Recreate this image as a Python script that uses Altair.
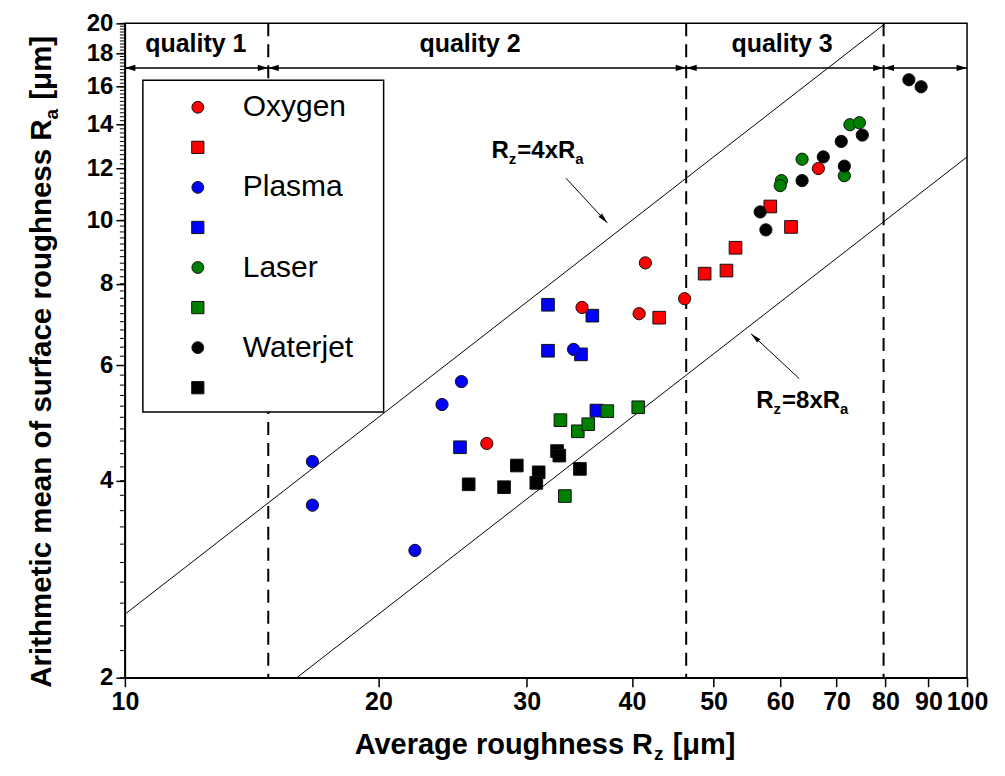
import altair as alt
import pandas as pd

# ---------------- data (Rz, Ra in µm) ----------------
oxygen_circle_rz = [26.9, 34.9, 40.8, 41.5, 46.2, 66.6]
oxygen_circle_ra = [4.56, 7.36, 7.20, 8.61, 7.59, 12.0]
oxygen_square_rz = [43.1, 48.8, 51.8, 53.1, 58.4, 61.8]
oxygen_square_ra = [7.10, 8.29, 8.38, 9.08, 10.5, 9.77]
plasma_circle_rz = [16.7, 16.7, 22.1, 23.8, 25.1, 34.1]
plasma_circle_ra = [4.28, 3.67, 3.13, 5.23, 5.67, 6.35]
plasma_square_rz = [25.0, 31.8, 35.9, 31.8, 34.8, 36.3]
plasma_square_ra = [4.50, 7.43, 7.15, 6.32, 6.24, 5.12]
laser_circle_rz = [60.2, 60.0, 63.7, 71.5, 72.6, 74.5]
laser_circle_ra = [11.5, 11.3, 12.4, 11.7, 14.0, 14.1]
laser_square_rz = [32.9, 34.5, 35.5, 37.4, 40.7, 33.3]
laser_square_ra = [4.95, 4.76, 4.88, 5.11, 5.18, 3.79]
waterjet_circle_rz = [56.8, 57.7, 63.7, 67.5, 70.9, 71.5, 75.1, 85.3, 88.2]
waterjet_circle_ra = [10.3, 9.67, 11.5, 12.5, 13.2, 12.1, 13.5, 16.4, 16.0]
waterjet_square_rz = [25.6, 28.2, 29.2, 31.0, 30.8, 32.6, 32.8, 34.7]
waterjet_square_ra = [3.95, 3.91, 4.22, 4.12, 3.97, 4.44, 4.37, 4.17]

processes = ["Oxygen", "Plasma", "Laser", "Waterjet"]
process_colors = ["#ff0000", "#0000ff", "#008000", "#000000"]
legend_labels = ["Oxygen", "", "Plasma", "", "Laser", "", "Waterjet", ""]

x_ticks = [10, 20, 30, 40, 50, 60, 70, 80, 90, 100]
y_ticks = [2, 4, 6, 8, 10, 12, 14, 16, 18, 20]
y_minor = [round(2 + 0.2 * i, 1) for i in range(91)]

# reference lines Rz = 4 Ra and Rz = 8 Ra (end points)
line4_rz = [10, 80]
line4_ra = [2.5, 20]
line8_rz = [16, 100]
line8_ra = [2, 12.5]

# quality classes
divider_rz = [14.8, 46.4, 79.6]
quality_line_ra = 17.1
segment_left = [10, 14.8, 46.4, 79.6]
segment_right = [14.8, 46.4, 79.6, 100]
quality_labels = ["quality 1", "quality 2", "quality 3"]
quality_label_rz = [12.14, 25.7, 60.3]
quality_label_ra = 18.6

# annotations
ann4_tail = (33.4, 11.6)
ann4_head = (37.4, 9.91)
ann4_text = (27.25, 12.45)
ann8_tail = (63.2, 5.73)
ann8_head = (55.4, 6.71)
ann8_text = (56.2, 5.16)

# ---------------- layout / style ----------------
W, H = 843, 655
FONT = "Liberation Sans"

BOLD_W = {" ": .278, "A": .722, "R": .722, "a": .556, "c": .556, "e": .556, "f": .333,
          "g": .611, "h": .611, "i": .278, "m": .889, "n": .611, "o": .611, "r": .389,
          "s": .556, "t": .333, "u": .611, "v": .556, "x": .556, "z": .5, "[": .333,
          "]": .333, "μ": .611, "=": .584, "4": .556, "8": .556}


def tw(s, size):
    return sum(BOLD_W.get(c, .556) for c in s) * size


xs = alt.Scale(type="log", domain=[10, 100], nice=False)
ys = alt.Scale(type="log", domain=[2, 20], nice=False)

x_axis = alt.Axis(values=x_ticks, format="d", title=None, grid=False,
                  labelFont=FONT, labelFontSize=25, labelFontWeight="bold",
                  labelColor="black", tickColor="black", tickSize=9, tickWidth=1.5,
                  domainColor="black", domainWidth=1.5, labelPadding=3,
                  labelFlush=False, labelOverlap=False)
y_axis = alt.Axis(values=y_ticks, format="d", title=None, grid=False,
                  labelFont=FONT, labelFontSize=24, labelFontWeight="bold",
                  labelColor="black", tickColor="black", tickSize=9, tickWidth=1.5,
                  domainColor="black", domainWidth=1.5, labelPadding=3,
                  labelFlush=False, labelOverlap=False)

XE = alt.X("Rz:Q", scale=xs, axis=x_axis)
YE = alt.Y("Ra:Q", scale=ys, axis=y_axis)
one = pd.DataFrame({"k": [0]})

layers = []

# reference lines
ref = pd.DataFrame({"Rz": line4_rz + line8_rz, "Ra": line4_ra + line8_ra,
                    "line": ["4", "4", "8", "8"]})
layers.append(alt.Chart(ref).mark_line(color="black", strokeWidth=1, clip=True)
              .encode(x=XE, y=YE, detail="line:N"))

# dividers
layers.append(alt.Chart(pd.DataFrame({"Rz": divider_rz}))
              .mark_rule(color="black", strokeWidth=2, strokeDash=[13, 8])
              .encode(x=XE, y=alt.value(0), y2=alt.value(H)))

# quality arrow line
layers.append(alt.Chart(pd.DataFrame({"Ra": [quality_line_ra]}))
              .mark_rule(color="black", strokeWidth=1.5)
              .encode(y=YE, x=alt.value(0), x2=alt.value(W)))
left_head = "M0,0L2,-0.6L2,0.6Z"
right_head = "M0,0L-2,-0.6L-2,0.6Z"
layers.append(alt.Chart(pd.DataFrame({"Rz": segment_left, "Ra": [quality_line_ra] * 4}))
              .mark_point(shape=left_head, filled=True, color="black", size=110, opacity=1)
              .encode(x=XE, y=YE))
layers.append(alt.Chart(pd.DataFrame({"Rz": segment_right, "Ra": [quality_line_ra] * 4}))
              .mark_point(shape=right_head, filled=True, color="black", size=110, opacity=1)
              .encode(x=XE, y=YE))
layers.append(alt.Chart(pd.DataFrame({"Rz": quality_label_rz, "Ra": [quality_label_ra] * 3,
                                      "t": quality_labels}))
              .mark_text(font=FONT, fontSize=25, fontWeight="bold", color="black",
                         baseline="middle", align="center")
              .encode(x=XE, y=YE, text="t:N"))

# minor ticks on y axis
layers.append(alt.Chart(pd.DataFrame({"Ra": y_minor}))
              .mark_rule(color="black", strokeWidth=1)
              .encode(y=YE, x=alt.value(-5), x2=alt.value(0)))

# legend
LX0, LX1, LY0, LY1 = 18, 259, 57, 389
layers.append(alt.Chart(one).mark_rect(fill="white", stroke="black", strokeWidth=1.5)
              .encode(x=alt.value(LX0), x2=alt.value(LX1), y=alt.value(LY0), y2=alt.value(LY1)))
for i, lab in enumerate(legend_labels):
    yy = 84 + 40.1 * i
    col = process_colors[i // 2]
    shp = "circle" if i % 2 == 0 else "square"
    layers.append(alt.Chart(one).mark_point(shape=shp, filled=True, fill=col, stroke="#111",
                                            strokeWidth=1, size=140 if shp == "circle" else 150,
                                            opacity=1)
                  .encode(x=alt.value(73), y=alt.value(yy)))
    if lab:
        layers.append(alt.Chart(one).mark_text(text=lab, font=FONT, fontSize=30, color="black",
                                               align="left", baseline="middle")
                      .encode(x=alt.value(118), y=alt.value(yy)))


# rich text helper (subscripts)
def rich(parts, enc, size, sub, angle=0, sub_dy=6, data=one):
    out = []
    off = 0.0
    for txt, is_sub in parts:
        fs = sub if is_sub else size
        core = txt.strip()
        off += tw(txt[:len(txt) - len(txt.lstrip())], fs)
        out.append(alt.Chart(data).mark_text(text=core, font=FONT, fontSize=fs,
                                             fontWeight="bold", color="black", align="left",
                                             baseline="alphabetic", angle=angle, dx=off,
                                             dy=sub_dy if is_sub else 0)
                   .encode(**enc))
        off += tw(core, fs) + (1 if is_sub else 0)
    return out


# annotations
for tail, head, txt_pos, num in [(ann4_tail, ann4_head, ann4_text, "4"),
                                 (ann8_tail, ann8_head, ann8_text, "8")]:
    d = pd.DataFrame({"Rz": [tail[0]], "Ra": [tail[1]], "Rz2": [head[0]], "Ra2": [head[1]]})
    layers.append(alt.Chart(d).mark_rule(color="black", strokeWidth=1)
                  .encode(x=XE, y=YE, x2="Rz2:Q", y2="Ra2:Q"))
    ang = 138 if num == "4" else 313
    layers.append(alt.Chart(pd.DataFrame({"Rz": [head[0]], "Ra": [head[1]]}))
                  .mark_point(shape="M0,0L-0.45,2L0.45,2Z", filled=True, color="black",
                              size=110, angle=ang, opacity=1)
                  .encode(x=XE, y=YE))
    tdat = pd.DataFrame({"Rz": [txt_pos[0]], "Ra": [txt_pos[1]]})
    layers += rich([("R", False), ("z", True), ("=" + num + "xR", False), ("a", True)],
                   dict(x=XE, y=YE), 24, 15, data=tdat)

# data points
rows = []
for proc, cz, ca, sz, sa in [
    ("Oxygen", oxygen_circle_rz, oxygen_circle_ra, oxygen_square_rz, oxygen_square_ra),
    ("Plasma", plasma_circle_rz, plasma_circle_ra, plasma_square_rz, plasma_square_ra),
    ("Laser", laser_circle_rz, laser_circle_ra, laser_square_rz, laser_square_ra),
    ("Waterjet", waterjet_circle_rz, waterjet_circle_ra, waterjet_square_rz, waterjet_square_ra),
]:
    rows += [dict(Rz=a, Ra=b, proc=proc, kind="circle") for a, b in zip(cz, ca)]
    rows += [dict(Rz=a, Ra=b, proc=proc, kind="square") for a, b in zip(sz, sa)]
pts = pd.DataFrame(rows)
fill = alt.Fill("proc:N", scale=alt.Scale(domain=processes, range=process_colors), legend=None)
for kind, size in [("square", 160), ("circle", 150)]:
    layers.append(alt.Chart(pts[pts.kind == kind]).mark_point(
        shape=kind, filled=True, stroke="#111", strokeWidth=1, size=size, opacity=1)
        .encode(x=XE, y=YE, fill=fill))

# axis titles
layers += rich([("Average roughness R", False), ("z", True), (" [μm]", False)],
               dict(x=alt.value(230), y=alt.value(731)), 29, 19, sub_dy=6)
layers += rich([("Arithmetic mean of surface roughness R", False), ("a", True), (" [μm]", False)],
               dict(x=alt.value(-74), y=alt.value(665)), 29.5, 19, angle=270, sub_dy=7)

chart = alt.layer(*layers).properties(
    width=W, height=H,
    autosize=alt.AutoSizeParams(type="none"),
    padding={"left": 117, "top": 15, "right": 30, "bottom": 86},
).configure_view(stroke="black", strokeWidth=1.5)

chart.save("out.html", embed_options={"renderer": "svg", "actions": False})
